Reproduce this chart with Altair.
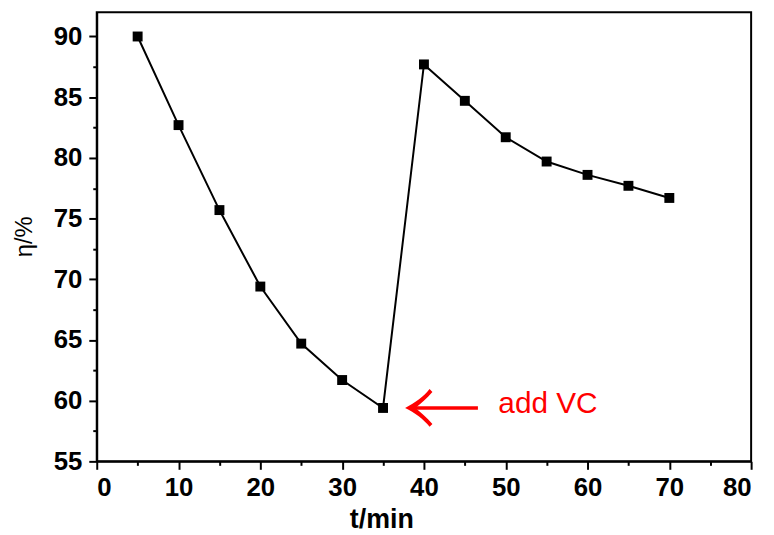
import altair as alt
import pandas as pd

# ---- data ----
t_min = [5, 10, 15, 20, 25, 30, 35, 40, 45, 50, 55, 60, 65, 70]
eta = [90.0, 82.7, 75.7, 69.4, 64.7, 61.7, 59.4, 87.7, 84.7, 81.7, 79.7, 78.6, 77.7, 76.7]

x_major = [0, 10, 20, 30, 40, 50, 60, 70, 80]
x_minor = [5, 15, 25, 35, 45, 55, 65, 75]
y_major = [55, 60, 65, 70, 75, 80, 85, 90]
y_minor = [57.5, 62.5, 67.5, 72.5, 77.5, 82.5, 87.5]

# annotation (data coordinates)
arrow_start = [46.6]
arrow_end = [38.6]
arrow_y = [59.4]
head_x = [40.0]
note_text = ["add VC"]
note_x = [49.1]
note_y = [59.75]

FONT = "Liberation Sans"

df = pd.DataFrame({"t": t_min, "eta": eta})
arrow_df = pd.DataFrame({"x": arrow_start, "x2": arrow_end, "y": arrow_y, "hx": head_x})
note_df = pd.DataFrame({"x": note_x, "y": note_y, "label": note_text})

xs = alt.Scale(domain=[0, 80], nice=False, zero=False)
ys = alt.Scale(domain=[55, 92], nice=False, zero=False)

# minor ticks (own axes, no labels)
minor = alt.Chart(df).mark_point(opacity=0).encode(
    x=alt.X("t:Q", scale=xs, axis=alt.Axis(values=x_minor, labels=False, title=None,
                                            tickSize=4, domain=False, orient="bottom", grid=False)),
    y=alt.Y("eta:Q", scale=ys, axis=alt.Axis(values=y_minor, labels=False, title=None,
                                              tickSize=4, domain=False, orient="left", grid=False)),
)

line = alt.Chart(df).mark_line(color="black", strokeWidth=2).encode(
    x=alt.X("t:Q", scale=xs, axis=alt.Axis(
        values=x_major, title="t/min", labelPadding=5, orient="bottom",
        titleFontSize=27, titleFontWeight="bold", titleX=287, titleY=67,
        titleAlign="center", titleBaseline="alphabetic")),
    y=alt.Y("eta:Q", scale=ys, axis=alt.Axis(
        values=y_major, title="η/%", labelPadding=7, orient="left",
        titleFontSize=24, titleFontWeight="normal", titleAngle=270,
        titleX=-66, titleY=226, titleAlign="center", titleBaseline="alphabetic")),
)

points = alt.Chart(df).mark_point(shape="square", filled=True, color="black", size=100, opacity=1).encode(
    x=alt.X("t:Q", scale=xs, axis=None),
    y=alt.Y("eta:Q", scale=ys, axis=None),
)

shaft = alt.Chart(arrow_df).mark_rule(color="#ff0000", strokeWidth=3.5).encode(
    x=alt.X("x:Q", scale=xs, axis=None),
    x2="x2:Q",
    y=alt.Y("y:Q", scale=ys, axis=None),
)

head_path = ("M -1 0 C -0.5 -0.25 0 -0.6 0.3 -1 L 0.45 -0.85 "
             "C 0.15 -0.5 -0.2 -0.2 -0.45 0 "
             "C -0.2 0.2 0.15 0.5 0.45 0.85 L 0.3 1 "
             "C 0 0.6 -0.5 0.25 -1 0 Z")
head = alt.Chart(arrow_df).mark_point(shape=head_path, filled=True, color="#ff0000",
                                      size=1444, opacity=1, strokeWidth=0).encode(
    x=alt.X("hx:Q", scale=xs, axis=None),
    y=alt.Y("y:Q", scale=ys, axis=None),
)

note = alt.Chart(note_df).mark_text(color="#ff0000", font=FONT, fontSize=30,
                                    align="left", baseline="middle").encode(
    x=alt.X("x:Q", scale=xs, axis=None),
    y=alt.Y("y:Q", scale=ys, axis=None),
    text="label:N",
)

chart = alt.layer(minor, line, points, shaft, head, note).resolve_axis(
    x="independent", y="independent"
).properties(
    width=660, height=453,
    autosize=alt.AutoSizeParams(type="none"),
    padding={"left": 89.5, "top": 2, "right": 15, "bottom": 70},
    background="white",
).configure_view(
    stroke="black", strokeWidth=2
).configure_axis(
    grid=False, domainColor="black", domainWidth=2, tickColor="black", tickWidth=2,
    tickSize=8, labelFont=FONT, labelFontSize=26, labelFontWeight="bold",
    labelColor="black", titleFont=FONT, titleColor="black",
)

chart.save("out.html", embed_options={"renderer": "svg", "actions": False})
